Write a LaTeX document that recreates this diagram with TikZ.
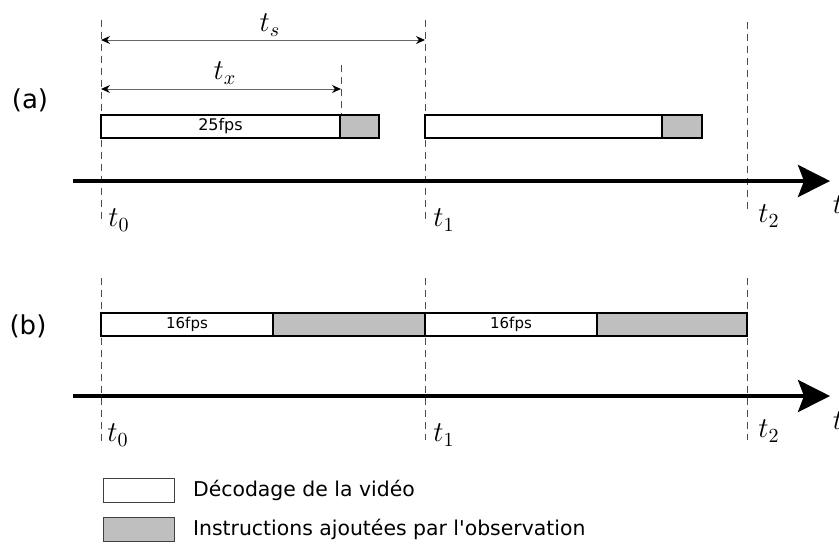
\documentclass[tikz,border=0pt]{standalone}
\usepackage{fontspec}
\setsansfont{DejaVu Sans}
\newfontfamily\keyfont{DejaVu Sans}
\usetikzlibrary{arrows.meta}

\begin{document}
\begin{tikzpicture}[
  x=0.5pt, y=-0.5pt,
  font=\sffamily,
  guide/.style={draw=black!70, line width=0.4pt, dash pattern=on 3.5pt off 2.5pt},
  dim/.style={{Stealth[length=4.5pt,width=4pt,black]}-{Stealth[length=4.5pt,width=4pt,black]},
              draw=black!60, line width=0.5pt},
  axis/.style={line width=2pt, -{Stealth[length=16pt,width=16pt,inset=3pt]}},
  vid/.style={draw, line width=1pt, fill=white, minimum height=11.5pt, inner sep=0pt,
              outer sep=0pt, anchor=west, font=\fontsize{8}{9}\selectfont\sffamily},
  obs/.style={vid, fill=black!25},
  key/.style={draw=black!75, line width=0.5pt, minimum width=35.5pt, minimum height=12pt,
              inner sep=0pt, anchor=west},
  part/.style={font=\fontsize{13}{15}\selectfont\sffamily},
  mth/.style={font=\Large},
  note/.style={anchor=west, font=\fontsize{10.2}{12}\selectfont\keyfont},
]
\useasboundingbox (0,0) rectangle (839,543);
% time marks
\foreach \x/\ya/\yb in {101/20/222, 425/20/222, 747/22/212, 101/278/442, 425/278/440, 747/278/440}
  \draw[guide] (\x,\ya) -- (\x,\yb);
\draw[guide] (341,65) -- (341,115);

% (a)
\node[part] (pa) at (30,100) {(a)};
\coordinate (tsL) at (101,40);
\coordinate (tsR) at (425,40);
\coordinate (txL) at (101,89);
\coordinate (txR) at (341,89);
\draw[dim] (tsL) -- (tsR);
\draw[dim] (txL) -- (txR);
\node[mth] (ts) at (270,25) {$t_s$};
\node[mth] (tx) at (225,73) {$t_x$};
\node[vid, minimum width=119.5pt] (a1v) at (101,126.5) {25fps};
\node[obs, minimum width=19.5pt] (a1o) at (a1v.east) {};
\node[vid, minimum width=118.5pt] (a2v) at (425,126.5) {};
\node[obs, minimum width=20pt] (a2o) at (a2v.east) {};
\coordinate (axa0) at (73,181);
\coordinate (axa1) at (830,181);
\draw[axis] (axa0) -- (axa1);
\node[mth] (a0) at (119,220) {$t_0$};
\node[mth] (a1) at (444,220) {$t_1$};
\node[mth] (a2) at (769,216) {$t_2$};
\node[mth] (at) at (838,205) {$t$};

% (b)
\node[part] (pb) at (28,326) {(b)};
\node[vid, minimum width=86pt, font=\fontsize{7.5}{9}\selectfont\sffamily] (b1v) at (101,324.5) {16fps};
\node[obs, minimum width=76pt] (b1o) at (b1v.east) {};
\node[vid, minimum width=86pt, font=\fontsize{7.5}{9}\selectfont\sffamily] (b2v) at (425,324.5) {16fps};
\node[obs, minimum width=75pt] (b2o) at (b2v.east) {};
\coordinate (axb0) at (73,396);
\coordinate (axb1) at (830,396);
\draw[axis] (axb0) -- (axb1);
\node[mth] (b0) at (118,435) {$t_0$};
\node[mth] (b1) at (444,435) {$t_1$};
\node[mth] (b2) at (769,431) {$t_2$};
\node[mth] (bt) at (838,421) {$t$};

% legend
\node[key, fill=white] (kv) at (103,490) {};
\node[note] (kvt) at (186,490) {Décodage de la vidéo};
\node[key, fill=black!25] (ko) at (103,529) {};
\node[note] (kot) at (186,529) {Instructions ajoutées par l'observation};
\end{tikzpicture}
\end{document}
